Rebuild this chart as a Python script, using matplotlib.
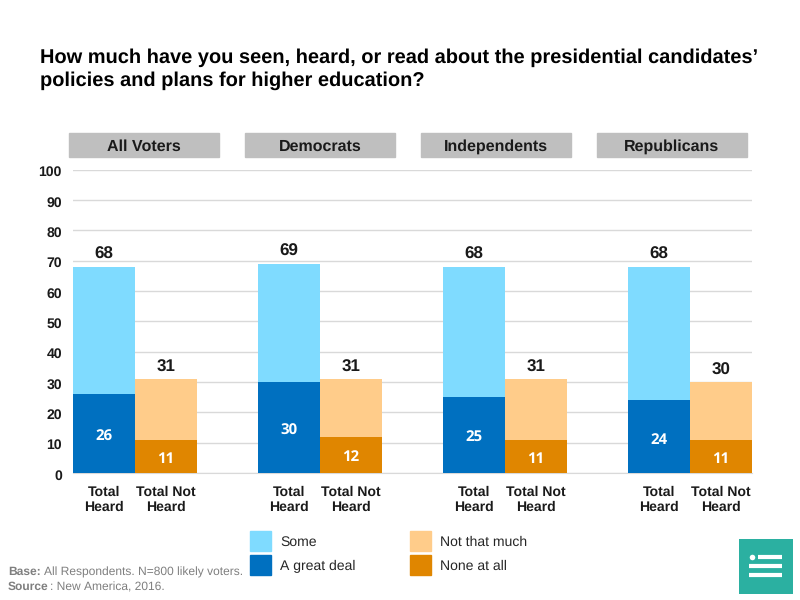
import matplotlib
matplotlib.use("Agg")
import matplotlib.pyplot as plt
from matplotlib.patches import Rectangle
from matplotlib.transforms import ScaledTranslation

plt.rcParams["font.family"] = ["Liberation Sans", "DejaVu Sans"]
plt.rcParams["text.hinting"] = "no_hinting"
plt.rcParams["text.hinting_factor"] = 1

GROUPS = ["All Voters", "Democrats", "Independents", "Republicans"]
HEARD_TOTAL = [68, 69, 68, 68]
GREAT_DEAL = [26, 30, 25, 24]
NOT_HEARD_TOTAL = [31, 31, 31, 30]
NONE_AT_ALL = [11, 12, 11, 11]
Y_TICKS = [0, 10, 20, 30, 40, 50, 60, 70, 80, 90, 100]
BAR_LABELS = ["Total\nHeard", "Total Not\nHeard"]

C_SOME = "#7fdbff"
C_GREAT = "#0070c0"
C_NOT_MUCH = "#ffcc8a"
C_NONE = "#e08600"
GREY = "#7f7f7f"
DARK = "#1a1a1a"

TITLE = ("How much have you seen, heard, or read about the presidential candidates\u2019\n"
         "policies and plans for higher education?")

W, H = 800, 600
fig = plt.figure(figsize=(8, 6), dpi=100)

# axes placed by pixel, 1 x unit = one pixel
ax = fig.add_axes([73 / W, 1 - 473 / H, 679 / W, 303.5 / H])
ax.set_xlim(0, 679)
ax.set_ylim(0, 100)
bar_w = 62
step = 185

for i in range(len(GROUPS)):
    x1 = i * step + bar_w / 2
    x2 = x1 + bar_w
    ax.bar(x1, HEARD_TOTAL[i], bar_w, color=C_SOME, zorder=3)
    ax.bar(x1, GREAT_DEAL[i], bar_w, color=C_GREAT, zorder=3)
    ax.bar(x2, NOT_HEARD_TOTAL[i], bar_w, color=C_NOT_MUCH, zorder=3)
    ax.bar(x2, NONE_AT_ALL[i], bar_w, color=C_NONE, zorder=3)

    ax.text(x1, HEARD_TOTAL[i] + 1.3, str(HEARD_TOTAL[i]), ha="center", va="bottom",
            fontsize=12, fontweight="bold", color=DARK)
    ax.text(x2, NOT_HEARD_TOTAL[i] + 1.3, str(NOT_HEARD_TOTAL[i]), ha="center", va="bottom",
            fontsize=12, fontweight="bold", color=DARK)
    ax.text(x1, GREAT_DEAL[i] / 2 - 1.0, str(GREAT_DEAL[i]), ha="center", va="center",
            fontsize=10.5, fontweight="bold", color="white", family=["Open Sans", "DejaVu Sans"], zorder=4)
    ax.text(x2, NONE_AT_ALL[i] / 2 - 0.8, str(NONE_AT_ALL[i]), ha="center", va="center",
            fontsize=10.5, fontweight="bold", color="white", family=["Open Sans", "DejaVu Sans"], zorder=4)

    # group header strip
    fig.patches.append(Rectangle(((69 + i * 176) / W, 1 - 157 / H), 150 / W, 24 / H,
                                 transform=fig.transFigure, color="#bfbfbf"))
    fig.text((144 + i * 176) / W, 1 - 147 / H, GROUPS[i], ha="center", va="center",
             fontsize=11.2, fontweight="bold", color=DARK)

ax.set_yticks(Y_TICKS)
ax.set_xticks([i * step + off for i in range(len(GROUPS)) for off in (bar_w / 2, bar_w * 1.5)])
ax.set_xticklabels(BAR_LABELS * len(GROUPS), fontsize=10.2, fontweight="bold",
                   color=DARK, linespacing=1.22)
ax.tick_params(axis="x", length=0, pad=9)
ax.tick_params(axis="y", length=0, pad=8, labelsize=10, labelcolor=DARK)
for lab in ax.get_yticklabels():
    lab.set_fontweight("bold")
    lab.set_transform(lab.get_transform() + ScaledTranslation(0, -1.6 / 100, fig.dpi_scale_trans))
ax.grid(axis="y", color="#d9d9d9", linewidth=1, zorder=0)
ax.set_axisbelow(True)
for side in ["top", "right", "left"]:
    ax.spines[side].set_visible(False)
ax.spines["bottom"].set_color("#d9d9d9")

fig.text(40 / W, 1 - 69 / H, TITLE, ha="left", va="center", fontsize=14.25,
         fontweight="bold", color="black", linespacing=1.3)

# legend built by hand, two columns of swatches
LEGEND_LABELS = ["Some", "A great deal", "Not that much", "None at all"]
LEGEND_COLORS = [C_SOME, C_GREAT, C_NOT_MUCH, C_NONE]
LEGEND_X = [250, 250, 410, 410]
LEGEND_Y = [531, 555, 531, 555]
for label, color, lx, ly in zip(LEGEND_LABELS, LEGEND_COLORS, LEGEND_X, LEGEND_Y):
    fig.patches.append(Rectangle((lx / W, 1 - (ly + 20) / H), 21 / W, 20 / H,
                                 transform=fig.transFigure, color=color))
    fig.text((lx + 30) / W, 1 - (ly + 11.5) / H, label, ha="left", va="center",
             fontsize=9.8, color="#262626")

# footnote
fig.text(8 / W, 1 - 572 / H, "Base:", ha="left", va="center", fontsize=8.8,
         fontweight="bold", color=GREY)
fig.text(44 / W, 1 - 572 / H, "All Respondents. N=800 likely voters.", ha="left", va="center",
         fontsize=8.85, color=GREY)
fig.text(8 / W, 1 - 587 / H, "Source", ha="left", va="center", fontsize=8.8,
         fontweight="bold", color=GREY)
fig.text(49.5 / W, 1 - 587 / H, ": New America, 2016.", ha="left", va="center",
         fontsize=8.85, color=GREY)

# teal icon in the corner, its own axes so the marks sit on top
icon = fig.add_axes([739 / W, 1 - 594 / H, 54 / W, 55 / H], zorder=5)
icon.set_facecolor("#2bb0a1")
icon.set_xlim(739, 793)
icon.set_ylim(594, 539)
icon.set_xticks([])
icon.set_yticks([])
for s in icon.spines.values():
    s.set_visible(False)
icon.plot([752], [557], "o", color="white", markersize=4, markeredgewidth=0)
icon.plot([758, 782], [557, 557], color="white", linewidth=3, solid_capstyle="butt")
icon.plot([749, 782], [566, 566], color="white", linewidth=3, solid_capstyle="butt")
icon.plot([749, 782], [575, 575], color="white", linewidth=3, solid_capstyle="butt")

fig.savefig("out.png", dpi=100)
